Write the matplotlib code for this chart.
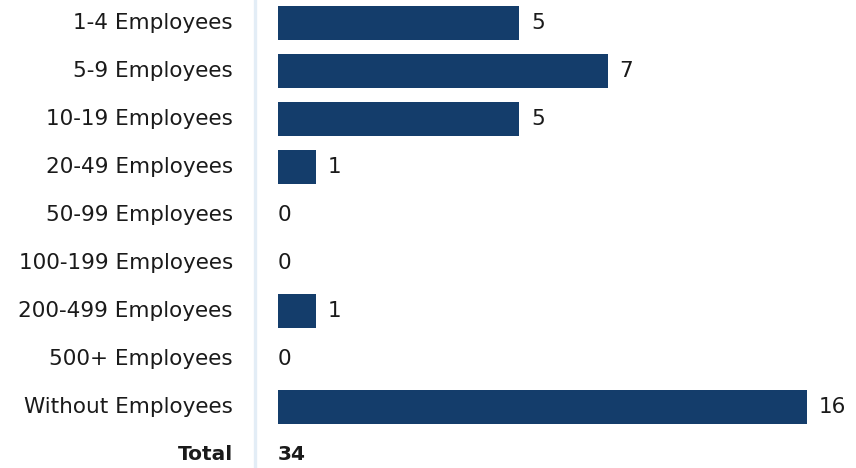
import matplotlib
matplotlib.use('Agg')
import matplotlib.pyplot as plt

# categories and the count shown next to each bar
categories = ['1-4 Employees', '5-9 Employees', '10-19 Employees', '20-49 Employees',
              '50-99 Employees', '100-199 Employees', '200-499 Employees',
              '500+ Employees', 'Without Employees']
counts = [5, 7, 5, 1, 0, 0, 1, 0, 16]
# drawn bar lengths (longest bar = 16)
bar_lengths = [7.29, 9.97, 7.29, 1.14, 0, 0, 1.14, 0, 16]
total_label = 'Total'
total_value = 34

navy = '#143d6b'
text_col = '#1a1a1a'
plt.rcParams['font.family'] = ['DejaVu Sans']

fig = plt.figure(figsize=(8.56, 4.68), dpi=100)
ax = fig.add_axes([0, 0, 1, 1])

px = 33.06  # pixels per unit on x
ax.set_xlim(-278 / px, (856 - 278) / px)
ax.set_ylim((468 - 23) / 48, -23 / 48)
ax.axis('off')

ys = list(range(len(categories)))
ax.barh(ys, bar_lengths, height=0.71, color=navy)

fs = 15.5
label_x = -45 / px
for y, cat, n, w in zip(ys, categories, counts, bar_lengths):
    ax.text(label_x, y, cat, ha='right', va='center', fontsize=fs, color=text_col)
    vx = w + 12 / px if w > 0 else 0.1 / px
    ax.text(vx, y, str(n), ha='left', va='center', fontsize=fs, color=text_col)

ty = len(categories)
ax.text(label_x, ty, total_label, ha='right', va='center', fontsize=fs - 1,
        fontweight='bold', color=text_col)
ax.text(0, ty, str(total_value), ha='left', va='center', fontsize=fs - 1,
        fontweight='bold', color=text_col)

ax.axvline(-23 / px, color='#e3edf6', lw=2.4)

fig.savefig('out.png', dpi=100)
